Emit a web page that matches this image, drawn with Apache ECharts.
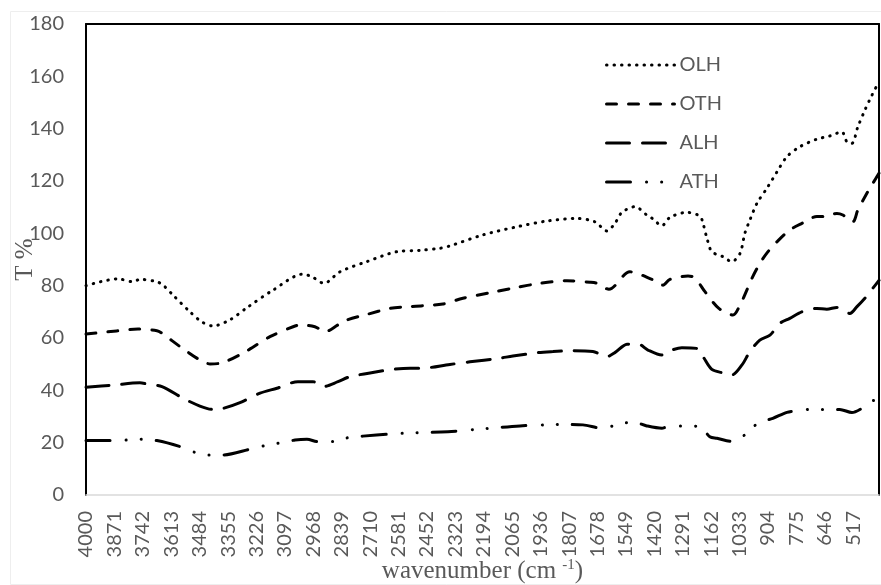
<!DOCTYPE html>
<html>
<head>
<meta charset="utf-8">
<title>FTIR spectra</title>
<script src="https://cdn.jsdelivr.net/npm/echarts@6/dist/echarts.min.js"></script>
<style>
  html, body { margin: 0; padding: 0; background: #fff; }
  #chart { width: 881px; height: 585px; }
</style>
</head>
<body>
<div id="chart"></div>
<script>
// wavenumber tick labels (cm-1)
let xTicks = [4000, 3871, 3742, 3613, 3484, 3355, 3226, 3097, 2968, 2839, 2710, 2581, 2452, 2323,
  2194, 2065, 1936, 1807, 1678, 1549, 1420, 1291, 1162, 1033, 904, 775, 646, 517];

// OLH (dotted)
let olhWn = [4000, 3855, 3787, 3755, 3678, 3650, 3605, 3528, 3475, 3424, 3346, 3269, 3151, 3015, 2974,
  2920, 2847, 2725, 2588, 2484, 2393, 2348, 2198, 2044, 1908, 1771, 1690, 1635, 1599, 1567, 1508, 1454,
  1426, 1386, 1349, 1272, 1213, 1199, 1181, 1159, 1109, 1068, 1031, 1009, 986, 954, 909, 863, 818, 759,
  682, 623, 569, 546, 523, 496, 464, 432, 400];
let olhT = [80, 82.6, 81.5, 82.4, 81.5, 80.2, 76.4, 70, 66.2, 64.6, 67, 71.6, 78.3, 84.4, 83.4,
  80.9, 85.3, 89.2, 93, 93.5, 94.3, 95.2, 99.4, 102.5, 104.7, 105.7, 104.4, 100.9, 103.8, 108, 110.2, 107,
  105.5, 102.9, 106.1, 108, 106.6, 103.8, 98.1, 93, 91.1, 89.2, 92.3, 100, 105.1, 111.5, 117.2, 123.5, 129.3, 133.1,
  136, 137.2, 138.8, 135, 134.4, 140.7, 147.1, 152.8, 158];

// OTH (short dash)
let othWn = [4000, 3861, 3764, 3678, 3655, 3573, 3483, 3437, 3378, 3269, 3165, 3060, 3029, 2961, 2915,
  2856, 2815, 2725, 2620, 2529, 2380, 2289, 2166, 2053, 1939, 1817, 1712, 1681, 1626, 1531, 1431, 1381,
  1349, 1267, 1236, 1190, 1127, 1063, 1031, 1000, 977, 941, 904, 863, 805, 750, 682, 655, 591, 564,
  519, 496, 455, 428, 400];
let othT = [61.5, 62.7, 63.4, 62.8, 61.8, 56.7, 51.6, 50.1, 50.6, 55.1, 60.5, 64.3, 65, 64.3, 62.4,
  65, 66.9, 69, 71.3, 72, 73, 75.2, 77.3, 79.2, 80.9, 81.9, 81.3, 80.9, 78.6, 85.3, 82.4, 80.2,
  82.4, 83.7, 83, 77.7, 71.3, 68.8, 72.6, 78.3, 82.8, 88.5, 93, 96.8, 101.3, 103.8, 106.4, 106.4, 107.6, 107,
  104.4, 108.9, 115.3, 119.1, 123];

// ALH (long dash)
let alhWn = [4000, 3877, 3755, 3723, 3655, 3560, 3483, 3424, 3378, 3301, 3210, 3133, 3038, 2970, 2924,
  2856, 2802, 2679, 2611, 2529, 2484, 2348, 2257, 2130, 2062, 1948, 1880, 1803, 1699, 1635, 1599, 1544,
  1494, 1449, 1386, 1349, 1295, 1226, 1199, 1159, 1109, 1068, 1022, 986, 941, 895, 850, 805, 750, 682,
  637, 591, 532, 500, 464, 428, 400];
let alhT = [41.2, 42, 42.9, 42.4, 41.4, 37, 34, 32.7, 33.1, 35.3, 38.9, 40.8, 43.3, 43.3, 41.4,
  43.3, 45.2, 47.1, 48, 48.4, 48.4, 49.9, 50.9, 52.2, 53.1, 54.4, 54.8, 55.1, 54.8, 52.9, 54.4, 57.6,
  57.7, 55.4, 53.5, 55.1, 56.3, 56, 52.9, 48, 46.7, 45.9, 49.7, 54.8, 59.2, 61.1, 65.6, 67.5, 70, 71.3,
  71, 71.7, 69.4, 72, 75.2, 79, 82];

// ATH (long dash dot dot)
let athWn = [4000, 3877, 3814, 3746, 3678, 3573, 3514, 3446, 3378, 3256, 3197, 3128, 3051, 2997, 2947,
  2879, 2811, 2743, 2620, 2552, 2357, 2225, 2030, 1903, 1835, 1744, 1653, 1585, 1517, 1454, 1386, 1349,
  1281, 1213, 1168, 1136, 1063, 1000, 950, 882, 818, 773, 714, 646, 578, 523, 478, 428, 400];
let athT = [20.8, 20.8, 21, 21.3, 20.8, 18.5, 16.5, 15.3, 15.3, 17.5, 18.7, 19.8, 21, 21.3, 20.4,
  20.4, 21.9, 22.5, 23.3, 23.6, 24.2, 25.1, 26.4, 26.8, 27, 26.8, 25.5, 27, 27.9, 26.4, 25.5, 26.4,
  26.4, 26.1, 22.3, 21.7, 20.4, 23.6, 27.4, 29.3, 31.6, 32.2, 32.7, 32.7, 32.7, 31.5, 33.1, 36, 36.5];

let labelColor = "#595959";
let labelFont = "Lato, 'Open Sans', sans-serif";
let serifFont = "'Liberation Serif', 'DejaVu Serif', serif";

function makeSeries(name, wn, t, dash) {
  return {
    name: name,
    type: "line",
    data: wn.map((w, i) => [w, t[i]]),
    symbol: "none",
    smooth: 0.3,
    lineStyle: { color: "#000", width: 3, type: dash, cap: "round" }
  };
}

let chartDom = document.getElementById("chart");
let myChart = echarts.init(chartDom);

let option = {
  animation: false,
  backgroundColor: "#fff",
  grid: { left: 86, right: 2, top: 24, bottom: 90, containLabel: false, outerBoundsMode: "none" },
  graphic: [
    {
      type: "rect",
      left: 8,
      top: 9,
      shape: { width: 872, height: 573 },
      style: { fill: "none", stroke: "#eeeeee", lineWidth: 1 },
      z: -1
    }
  ],
  legend: {
    orient: "vertical",
    left: 605,
    top: 55,
    padding: 0,
    itemWidth: 68,
    itemHeight: 14,
    itemGap: 19,
    itemStyle: { opacity: 0 },
    lineStyle: { width: 3 },
    textStyle: { color: labelColor, fontFamily: labelFont, fontSize: 20 },
    data: ["OLH", "OTH", "ALH", "ATH"]
  },
  xAxis: [
    {
      type: "value",
      inverse: true,
      min: 400,
      max: 4000,
      name: "wavenumber (cm {sup|-1})",
      nameLocation: "middle",
      nameGap: 63,
      nameMoveOverlap: false,
      nameTextStyle: {
        color: labelColor,
        fontFamily: serifFont,
        fontSize: 25,
        rich: {
          sup: { fontFamily: serifFont, fontSize: 15, color: labelColor, verticalAlign: "top", padding: [0, 0, 12, 0] }
        }
      },
      axisLine: { show: true, onZero: false, lineStyle: { color: "#d9d9d9", width: 1.5 } },
      axisTick: { show: false },
      splitLine: { show: false },
      axisLabel: {
        customValues: xTicks,
        formatter: v => String(v),
        rotate: 90,
        margin: 16,
        color: labelColor,
        fontFamily: labelFont,
        fontSize: 20
      }
    },
    {
      type: "value",
      inverse: true,
      min: 400,
      max: 4000,
      position: "top",
      axisLine: { show: true, onZero: false, lineStyle: { color: "#000", width: 2 } },
      axisTick: { show: false },
      axisLabel: { show: false },
      splitLine: { show: false }
    }
  ],
  yAxis: [
    {
      type: "value",
      min: 0,
      max: 180,
      interval: 20,
      name: "T %",
      nameLocation: "middle",
      nameRotate: 90,
      nameGap: 48,
      nameMoveOverlap: false,
      nameTextStyle: { color: labelColor, fontFamily: serifFont, fontSize: 25 },
      axisLine: { show: true, onZero: false, lineStyle: { color: "#000", width: 2 } },
      axisTick: { show: false },
      splitLine: { show: false },
      axisLabel: { margin: 22, color: labelColor, fontFamily: labelFont, fontSize: 20 }
    },
    {
      type: "value",
      min: 0,
      max: 180,
      position: "right",
      axisLine: { show: true, onZero: false, lineStyle: { color: "#000", width: 2 } },
      axisTick: { show: false },
      axisLabel: { show: false },
      splitLine: { show: false }
    }
  ],
  series: [
    makeSeries("OLH", olhWn, olhT, [0.5, 7]),
    makeSeries("OTH", othWn, othT, [10, 12]),
    makeSeries("ALH", alhWn, alhT, [23, 13]),
    makeSeries("ATH", athWn, athT, [24, 16, 0.1, 15, 0.1, 15])
  ]
};

myChart.setOption(option);
</script>
</body>
</html>
